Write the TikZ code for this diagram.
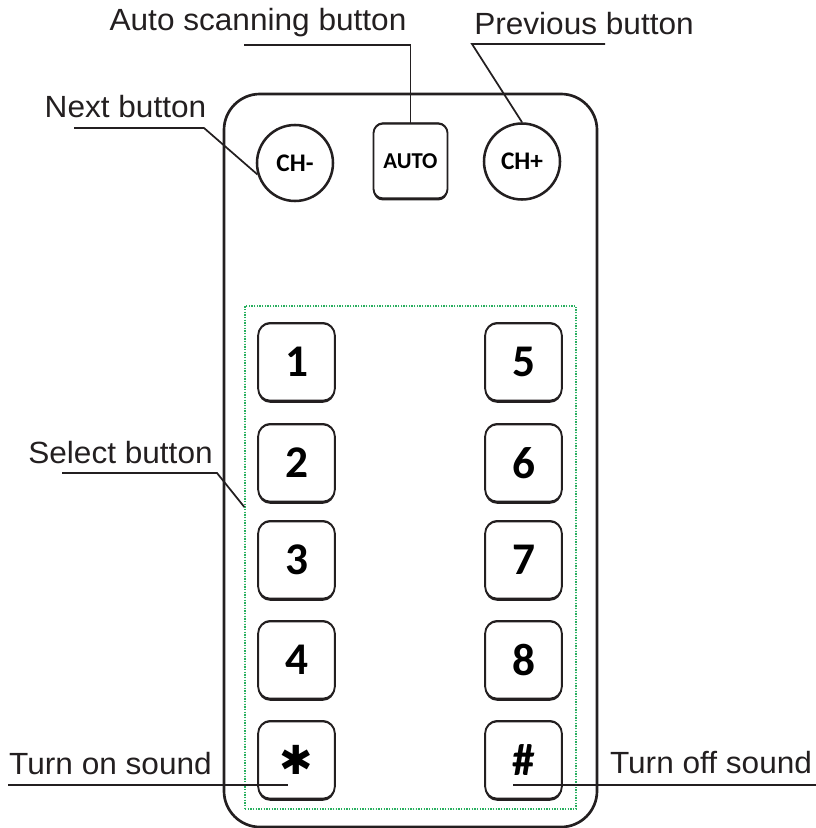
\documentclass[tikz,border=0pt]{standalone}
\usepackage{fontspec}
\setmainfont{Liberation Sans}
\newfontfamily\lblfont{Liberation Sans}[FakeStretch=1.03]
\newfontfamily\keyfont{Carlito}
\newfontfamily\symfont{DejaVu Sans}
\usepackage{xcolor}
\usepackage{tikz}
\usetikzlibrary{shapes.geometric, shadows, calc}
\definecolor{ink}{RGB}{35,31,32}
\definecolor{selgreen}{RGB}{40,175,95}

\begin{document}
\begin{tikzpicture}[x=0.75pt, y=-0.75pt,
    lbl/.style={inner sep=0pt, anchor=base, text=ink, font=\lblfont\fontsize{23}{27}\selectfont},
    lead/.style={draw=ink, line width=1.3pt},
    body/.style={rectangle, draw=ink, line width=2pt, rounded corners=27pt, minimum width=279.75pt, minimum height=549.75pt},
    selbox/.style={rectangle, draw=selgreen, densely dotted, line width=1pt, minimum width=248.25pt, minimum height=377.25pt},
    keyshade/.style={general shadow={shadow yshift=-1.6pt, fill=ink}, general shadow={shadow yshift=1pt, fill=ink}},
    key/.style={rectangle, draw=ink, fill=white, line width=1.4pt, rounded corners=9pt, minimum width=57.5pt, minimum height=58pt, inner sep=0pt, keyshade, font=\keyfont\bfseries\fontsize{34}{34}\selectfont},
    chbtn/.style={circle, draw=ink, fill=white, line width=1.9pt, minimum size=57pt, inner sep=0pt, font=\keyfont\bfseries\fontsize{19}{19}\selectfont},
    autobtn/.style={rectangle, draw=ink, fill=white, line width=1.4pt, rounded corners=7pt, minimum width=55.5pt, minimum height=56pt, inner sep=0pt, keyshade, font=\keyfont\bfseries\fontsize{17}{17}\selectfont}
]
\useasboundingbox (0,0) rectangle (816,828);

% Remote body
\node[body] (remote) at (410.5,460.5) {};
\node[selbox] (sel) at (410.5,557.5) {};

% Top buttons
\node[chbtn] (chm) at (295,163) {CH-};
\node[autobtn] (auto) at (410.5,161) {AUTO};
\node[chbtn] (chp) at (522,161.5) {CH+};

% Number keys
\foreach \t/\y in {1/362,2/463,3/560,4/660}
    \node[key] (k\t) at (296.5,\y) {\t};
\foreach \t/\y in {5/362,6/463,7/560,8/660}
    \node[key] (k\t) at (523.5,\y) {\t};
\node[key] (kstar) at (296.5,760) {\symfont\bfseries\fontsize{30}{30}\selectfont ✱};
\node[key] (khash) at (523.5,760) {\#};

% Labels
\node[lbl] (autolbl) at (258,31) {Auto scanning button};
\node[lbl] (prevlbl) at (584,34) {Previous button};
\node[lbl] (nextlbl) at (125.5,117) {Next button};
\node[lbl] (sellbl) at (120.5,463) {Select button};
\node[lbl] (onlbl) at (110.5,774) {Turn on sound};
\node[lbl] (offlbl) at (711,773) {Turn off sound};

% Leader lines
\coordinate (autoA) at (244,45);
\coordinate (autoB) at (410.5,45);
\coordinate (prevA) at (605,44);
\coordinate (prevB) at (472,44);
\coordinate (nextA) at (74,128);
\coordinate (nextB) at (204,128);
\coordinate (selA) at (62,473);
\coordinate (selB) at (217,473);
\coordinate (onA) at (8,785);
\coordinate (onB) at (288,785);
\coordinate (offA) at (513,785);
\coordinate (offB) at (816,785);

\draw[lead] (autoA) -- (autoB) -- (auto.north);
\draw[lead] (prevA) -- (prevB) -- (chp.north);
\draw[lead] (nextA) -- (nextB) -- (chm.197);
\draw[lead] (selA) -- (selB) -- ($(sel.north west)!0.4!(sel.south west)$);
\draw[lead] (onA) -- (onB);
\draw[lead] (offA) -- (offB);

\end{tikzpicture}
\end{document}
